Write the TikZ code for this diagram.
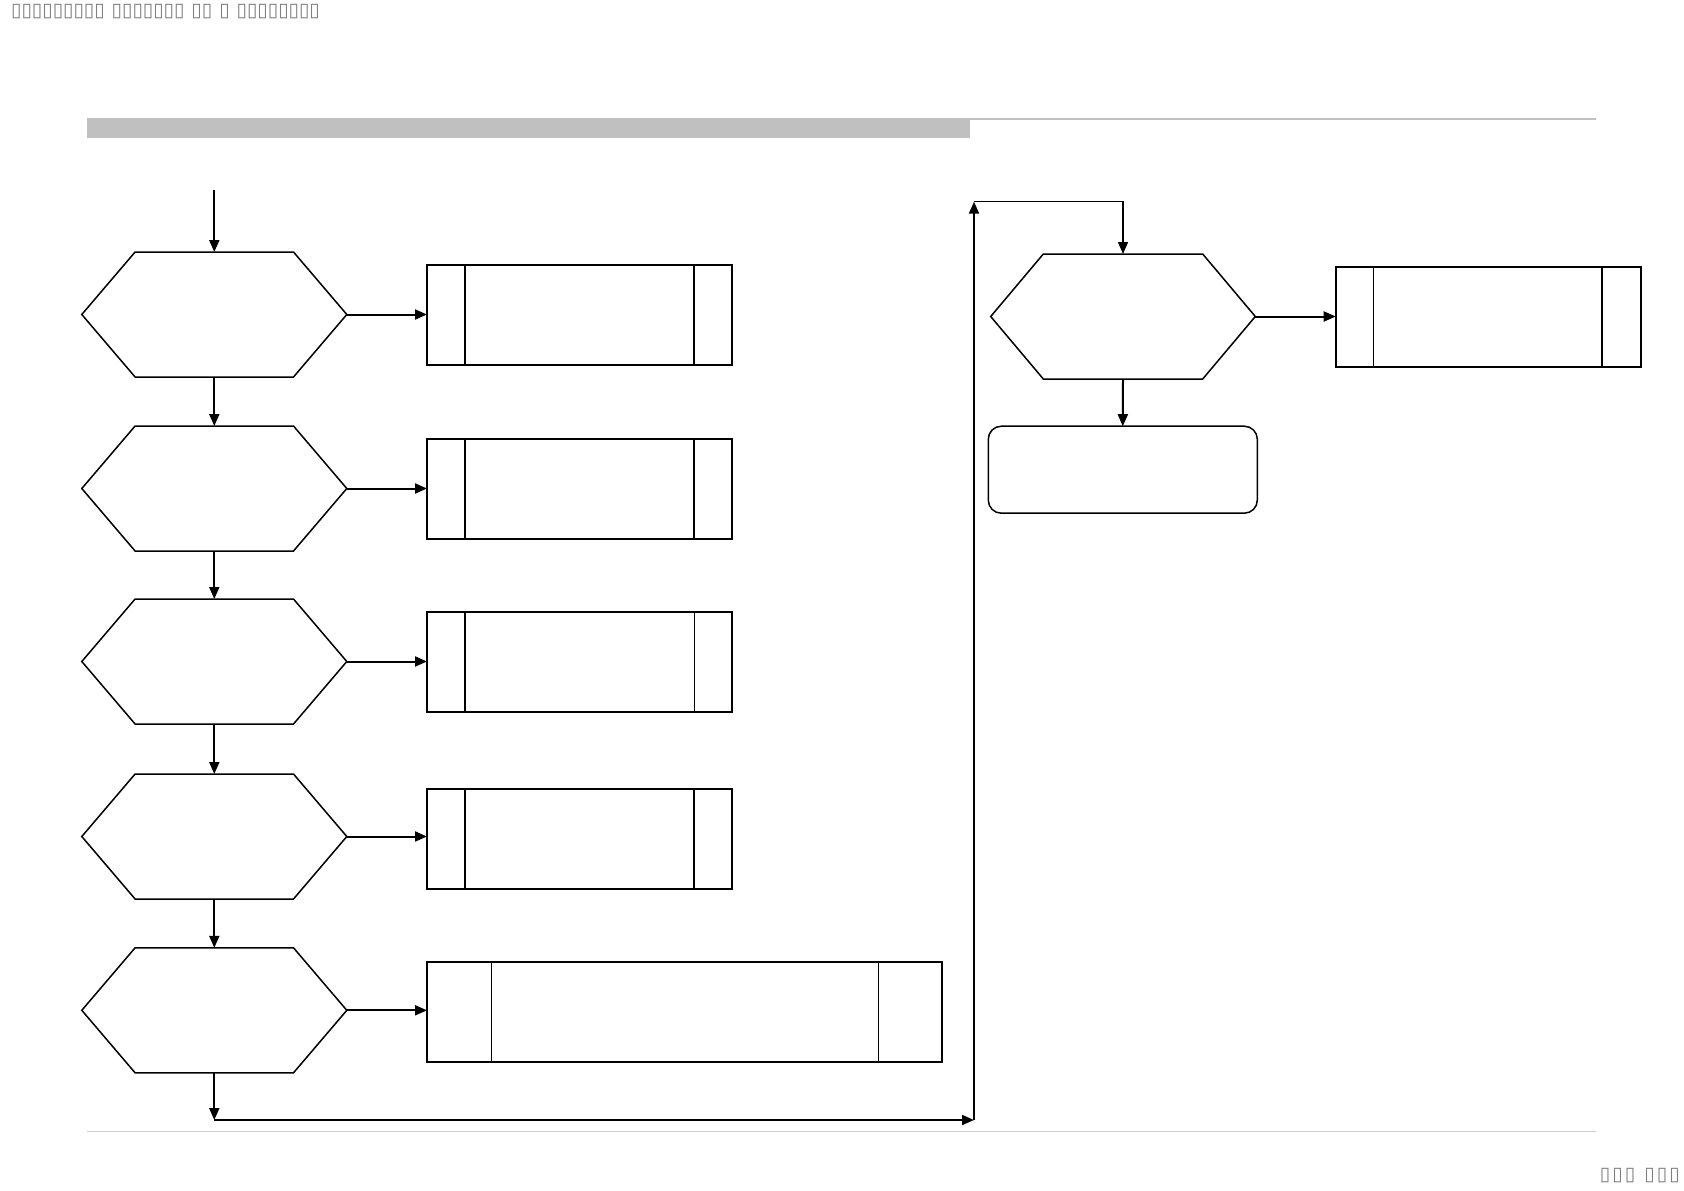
\documentclass[tikz,border=0pt]{standalone}
\usepackage{fontspec}
\newfontfamily\tofufont{DejaVu Sans}
\usetikzlibrary{arrows.meta}
\definecolor{barGray}{HTML}{C0C0C0}
\definecolor{ruleGray}{HTML}{D0D0D0}
\definecolor{txtGray}{HTML}{7F7F7F}
\newcommand{\tb}{\makebox[10.4pt][c]{▯}}
\newcommand{\tbb}{\makebox[12.5pt][c]{▯}}
\newcommand{\tsp}{\hspace{7pt}}
\newcommand{\hexdraw}[2]{%
  \draw[hexline] (#1.west) -- ([xshift=#2]#1.north west) -- ([xshift=-#2]#1.north east)
    -- (#1.east) -- ([xshift=-#2]#1.south east) -- ([xshift=#2]#1.south west) -- cycle;}
\newcommand{\rdivider}[3]{%
  \draw[#3] ([xshift=#2]#1.north west) -- ([xshift=#2]#1.south west);}
\tikzset{
  hexshape/.style={minimum width=265pt, minimum height=125pt, inner sep=0pt, outer sep=0pt},
  hexline/.style={line width=1.5pt, line join=miter},
  procbox/.style={draw, line width=2pt, minimum width=305pt, minimum height=100pt, inner sep=0pt, outer sep=0pt},
  endbox/.style={draw, line width=1.5pt, rounded corners=13pt, minimum width=269pt, minimum height=87pt, inner sep=0pt, outer sep=0pt},
  thickdiv/.style={line width=2pt},
  thindiv/.style={line width=0.8pt},
  flow/.style={line width=2pt, -{Triangle[length=12pt,width=10pt]}},
  tofu/.style={inner sep=0pt, text=txtGray, font=\tofufont\fontsize{19}{19}\selectfont},
}
\begin{document}
\begin{tikzpicture}[x=1pt, y=-1pt]
\useasboundingbox (0,0) rectangle (1684,1191);
% header / footer decorations
\fill[barGray] (87,118) rectangle (970,137.5);
\draw[barGray, line width=1.8pt] (970,119) -- (1596,119);
\draw[ruleGray, line width=1pt] (87,1131) -- (1596,1131);
\node[tofu, anchor=west] (hdr) at (11,12) {\tb\tb\tb\tb\tb\tb\tb\tb\tb\tsp\tb\tb\tb\tb\tb\tb\tb\tsp\tb\tb\tsp\tb\tsp\tb\tb\tb\tb\tb\tb\tb\tb};
\node[tofu, anchor=east] (ftr) at (1681,1176) {\tbb\tbb\tbb\tsp\tbb\tbb\tbb};

% left column hexagons
\node[hexshape] (h1) at (214.3,314.5) {};
\node[hexshape] (h2) at (214.3,488.5) {};
\node[hexshape] (h3) at (214.3,661.5) {};
\node[hexshape] (h4) at (214.3,836.5) {};
\node[hexshape] (h5) at (214.3,1010.3) {};
\foreach \h in {h1,h2,h3,h4,h5}{\hexdraw{\h}{53.3pt}}

% process boxes
\node[procbox] (r1) at (579.5,315.2) {};
\node[procbox] (r2) at (579.5,489.2) {};
\node[procbox, line width=1.6pt] (r3) at (579.5,662.1) {};
\node[procbox] (r4) at (579.5,839.4) {};
\node[procbox, minimum width=515pt] (r5) at (684.5,1012.2) {};
\foreach \r in {r1,r2,r4}{\rdivider{\r}{38pt}{thickdiv}\rdivider{\r}{267pt}{thickdiv}}
\rdivider{r3}{38pt}{thickdiv}\rdivider{r3}{267pt}{thindiv}
\rdivider{r5}{64pt}{thindiv}\rdivider{r5}{451pt}{thindiv}

% right column
\node[hexshape, minimum width=264.6pt] (hr) at (1123,316.5) {};
\hexdraw{hr}{52.6pt}
\node[procbox] (rr) at (1488.2,316.7) {};
\rdivider{rr}{37.6pt}{thindiv}\rdivider{rr}{266.3pt}{thickdiv}
\node[endbox] (fin) at (1122.8,469.7) {};

% connectors
\coordinate (s0) at (214.3,190);
\coordinate (c1) at (214.3,1120);
\coordinate (c2) at (974,1120);
\coordinate (c3) at (974,201.7);
\draw[flow] (s0) -- (h1.north);
\draw[flow] (h1.south) -- (h2.north);
\draw[flow] (h2.south) -- (h3.north);
\draw[flow] (h3.south) -- (h4.north);
\draw[flow] (h4.south) -- (h5.north);
\draw[flow] (h1.east) -- (h1.east -| r1.west);
\draw[flow] (h2.east) -- (h2.east -| r2.west);
\draw[flow] (h3.east) -- (h3.east -| r3.west);
\draw[flow] (h4.east) -- (h4.east -| r4.west);
\draw[flow] (h5.east) -- (h5.east -| r5.west);
\draw[flow] (h5.south) -- (c1);
\draw[flow] (c1) -- (c2);
\draw[flow] (c2) -- (c3);
\draw[flow, line width=1.4pt] (c3) -- (c3 -| hr.north) -- (hr.north);
\draw[flow] (hr.east) -- (hr.east -| rr.west);
\draw[flow] (hr.south) -- (fin.north);
\end{tikzpicture}
\end{document}
